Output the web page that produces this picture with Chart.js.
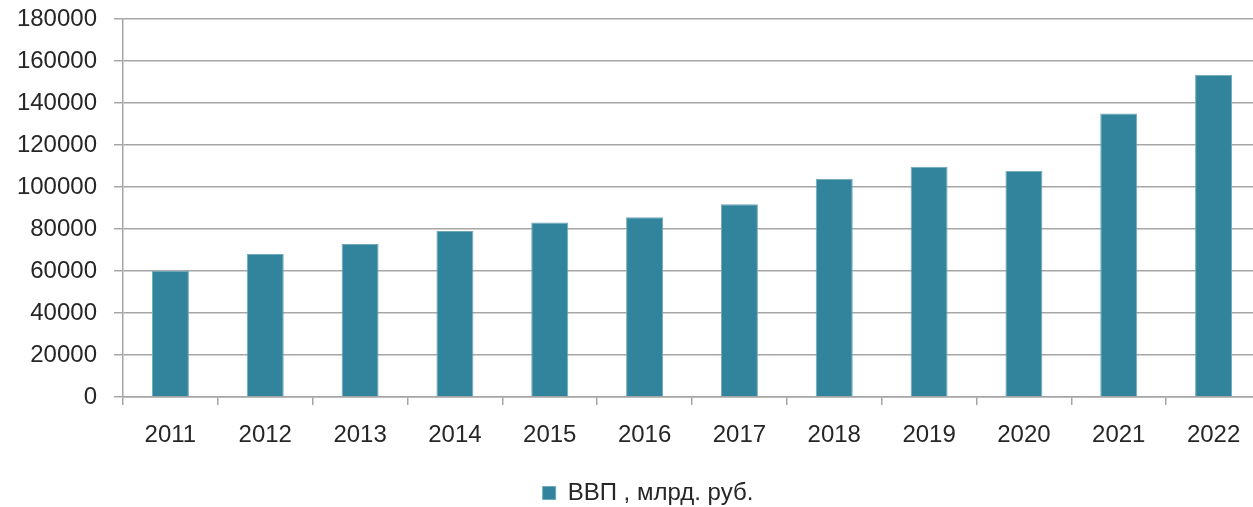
<!DOCTYPE html>
<html lang="ru">
<head>
<meta charset="utf-8">
<title>ВВП, млрд. руб.</title>
<script src="https://cdn.jsdelivr.net/npm/chart.js@4/dist/chart.umd.min.js"></script>
<style>
	html, body { margin: 0; padding: 0; overflow: hidden; background: #fff; }
	#wrap { position: absolute; left: 0; top: 0; width: 1296px; height: 507px; }
</style>
</head>
<body>
<div id="wrap"><canvas id="chart"></canvas></div>
<script>
const YEARS = ["2011", "2012", "2013", "2014", "2015", "2016", "2017", "2018", "2019", "2020", "2021", "2022"];
const GDP = [60000, 68100, 72900, 79000, 83100, 85600, 91800, 103900, 109600, 107700, 135000, 153400];
const SERIES_LABEL = "ВВП , млрд. руб.";
const Y_MIN = 0;
const Y_MAX = 180000;
const Y_STEP = 20000;

const _teal_ = "#31849b";
const _tealEdge_ = "#6fa9bb";
const _grid_ = "#a6a6a6";
const _text_ = "#262626";

Chart.defaults.font.family = "'Liberation Sans', Arial, sans-serif";
Chart.defaults.color = _text_;

// legend is centred on the whole (wider than the window) canvas, not the padded box
const centerLegend = {
	id: "centerLegend",
	beforeDraw(chart) {
		chart.legend.left = 0;
		chart.legend.right = chart.width;
	},
};

new Chart(document.getElementById("chart"), {
	type: "bar",
	data: {
		labels: [...YEARS],
		datasets: [{
			label: SERIES_LABEL,
			data: [...GDP],
			backgroundColor: _teal_,
			borderColor: _tealEdge_,
			borderWidth: 1,
			barPercentage: 0.39,
			categoryPercentage: 1,
		}],
	},
	options: {
		responsive: true,
		maintainAspectRatio: false,
		animation: false,
		// the plot runs a little past the right edge of the window, as in the source image
		layout: { padding: { left: 0, right: 35, top: 0, bottom: -8 } },
		plugins: {
			tooltip: { enabled: false },
			legend: {
				position: "bottom",
				labels: {
					boxWidth: 13,
					boxHeight: 13,
					font: { size: 24 },
					padding: 14,
				},
			},
		},
		scales: {
			x: {
				afterFit: (scale) => { scale.height = 70; },
				grid: {
					offset: true,
					drawOnChartArea: false,
					drawTicks: true,
					tickLength: 8,
					color: _grid_,
					lineWidth: 1.5,
				},
				border: { color: _grid_, width: 1.5 },
				ticks: { font: { size: 24 }, padding: 16, maxRotation: 0 },
			},
			y: {
				min: Y_MIN,
				max: Y_MAX,
				afterFit: (scale) => {
					scale.width = 123;
					scale.paddingTop = 19;
				},
				grid: {
					color: _grid_,
					lineWidth: 1.5,
					tickLength: 9,
				},
				border: { color: _grid_, width: 1.5 },
				ticks: {
					stepSize: Y_STEP,
					font: { size: 24 },
					padding: 17,
					callback: (value) => String(value),
				},
			},
		},
	},
	plugins: [centerLegend],
});
</script>
</body>
</html>
